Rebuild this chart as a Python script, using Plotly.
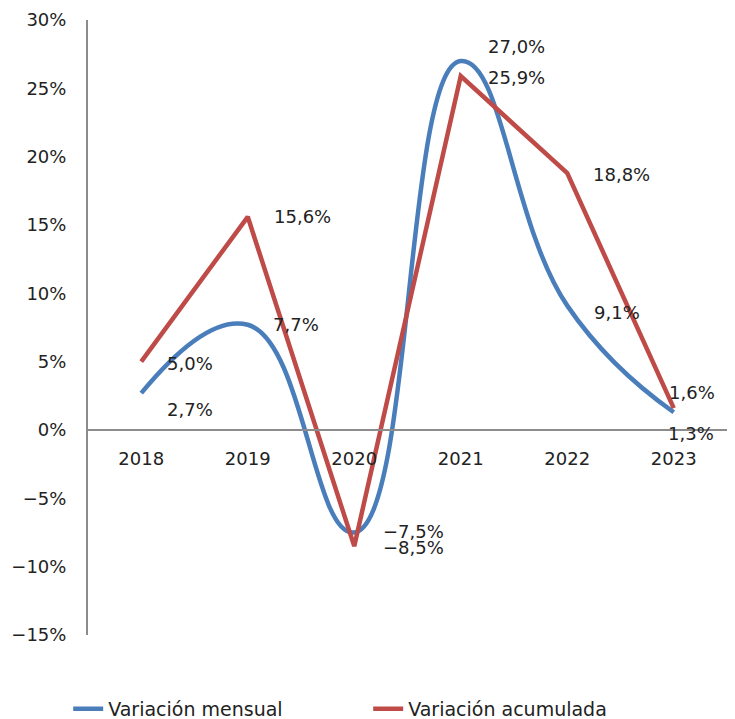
import plotly.graph_objects as go

# data
years = ["2018", "2019", "2020", "2021", "2022", "2023"]
var_mensual = [2.7, 7.7, -7.5, 27.0, 9.1, 1.3]
var_acumulada = [5.0, 15.6, -8.5, 25.9, 18.8, 1.6]

BLUE = "#4A7EBB"
RED = "#BE4B48"
TXT = "#222222"
FONT = "DejaVu Sans"

# label offsets in pixels (xshift, yshift) for each point
off_mensual = [(24, -16), (23, 0), (27, 1), (25, 15), (25, -7), (-8, -21)]
off_acumulada = [(24, -2), (24, 0), (27, -1), (25, -1), (24, -1), (-7, 16)]

fig = go.Figure()

fig.add_scatter(x=years, y=var_mensual, name="Variación mensual", mode="lines",
                line=dict(color=BLUE, width=4.5, shape="spline", smoothing=1.3))
fig.add_scatter(x=years, y=var_acumulada, name="Variación acumulada", mode="lines",
                line=dict(color=RED, width=4.5))

# data labels
def fmt(v):
    return f"{v:.1f}%".replace(".", ",").replace("-", "−")

# numeric-looking categories: annotations need the category index
for vals, offs in ((var_mensual, off_mensual), (var_acumulada, off_acumulada)):
    for i, (v, (dx, dy)) in enumerate(zip(vals, offs)):
        fig.add_annotation(x=i, y=v, xref="x", yref="y", text=fmt(v), showarrow=False,
                           xanchor="left", yanchor="middle", xshift=dx, yshift=dy,
                           font=dict(family=FONT, size=18, color=TXT))

fig.update_layout(
    width=735, height=719,
    paper_bgcolor="white", plot_bgcolor="white",
    margin=dict(l=88, r=8, t=20, b=84, autoexpand=False),
    showlegend=True,
    legend=dict(orientation="h", x=-0.031, xanchor="left",
                y=-0.12, yanchor="middle",
                entrywidth=255, entrywidthmode="pixels",
                font=dict(family=FONT, size=19, color=TXT)),
    xaxis=dict(
        type="category", range=[-0.5, 5.5], anchor="free", position=1/3,
        showline=True, linecolor="#8C8C8C", linewidth=2,
        showgrid=False, zeroline=False, ticks="",
        ticklabelstandoff=12,
        tickfont=dict(family=FONT, size=18, color=TXT),
    ),
    yaxis=dict(
        range=[-15, 30], dtick=5, ticksuffix="%",
        showline=True, linecolor="#8C8C8C", linewidth=2,
        showgrid=False, zeroline=False, ticks="",
        ticklabelstandoff=16,
        tickfont=dict(family=FONT, size=18, color=TXT),
    ),
)

fig.write_html("out.html", config={"displayModeBar": False},
               post_script="document.body.style.margin='0';")
